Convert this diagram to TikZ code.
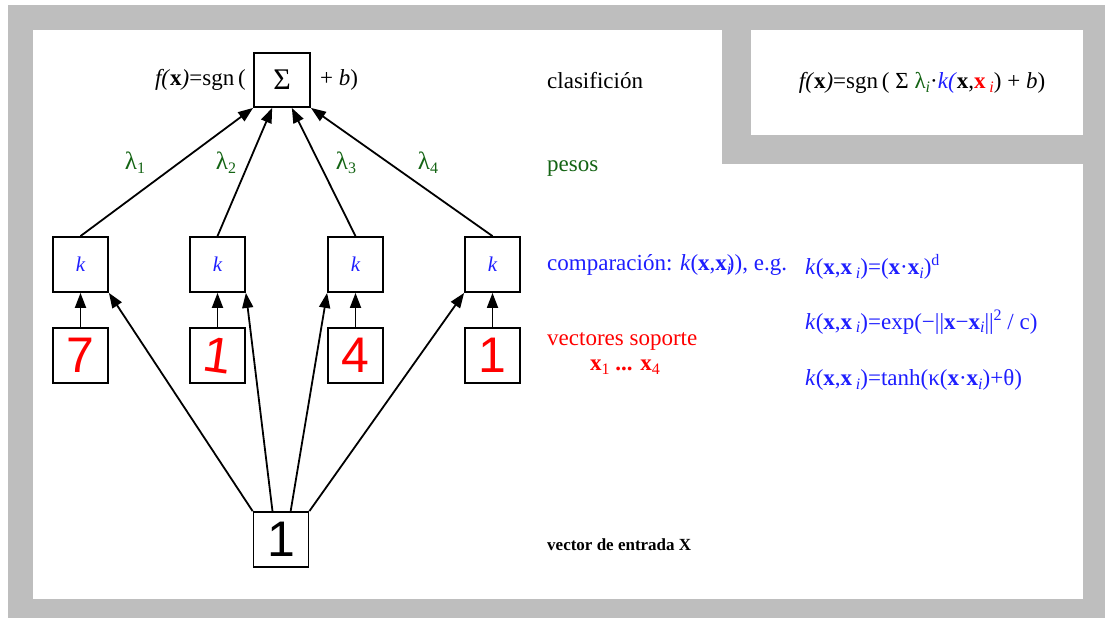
\documentclass[tikz,border=0pt]{standalone}
\usepackage{fontspec}
\setmainfont{Liberation Serif}
\newfontfamily\digitfont{Liberation Sans}
\usetikzlibrary{arrows.meta,calc}
\definecolor{bggray}{RGB}{190,190,190}
\definecolor{wgreen}{RGB}{20,100,20}
\definecolor{kblue}{RGB}{30,30,255}
\definecolor{dred}{RGB}{255,0,0}
\newcommand{\mysub}[1]{\raisebox{-0.35ex}{\fontsize{16}{16}\selectfont #1}}
\newcommand{\mysup}[1]{\raisebox{0.8ex}{\fontsize{16}{16}\selectfont #1}}
\newcommand{\bx}{\textbf{x}}
\newcommand{\ii}{\mysub{\textit{i}}}
\begin{document}
\begin{tikzpicture}[x=1pt,y=-1pt,
  box/.style={draw,line width=1.8pt,minimum width=55pt,minimum height=55pt,inner sep=0pt},
  arr/.style={line width=1.8pt,-{Triangle[length=15pt,width=11pt]}},
  lbl/.style={anchor=west,inner sep=0pt,font=\fontsize{23}{26}\selectfont},
  lam/.style={inner sep=0pt,text=wgreen,font=\fontsize{25}{26}\selectfont},
  dig/.style={font=\digitfont\fontsize{50}{50}\selectfont}
]
\useasboundingbox (0,0) rectangle (1105,618);
\fill[white] (0,0) rectangle (1105,618);
\fill[bggray] (8,5) rectangle (1105,618);
\fill[white] (33,30) rectangle (722,599);
\fill[white] (33,164) rectangle (1083,599);
\fill[white] (751,30) rectangle (1083,135);

% nodes
\node[box,minimum width=56pt,minimum height=54pt] (sum) at (282,80) {\fontsize{30}{30}\selectfont Σ};
\node[box] (k1) at (80.5,264.5) {\textcolor{kblue}{\fontsize{21}{21}\selectfont\itshape k}};
\node[box] (k2) at (217.5,264.5) {\textcolor{kblue}{\fontsize{21}{21}\selectfont\itshape k}};
\node[box] (k3) at (355.5,264.5) {\textcolor{kblue}{\fontsize{21}{21}\selectfont\itshape k}};
\node[box] (k4) at (492.5,264.5) {\textcolor{kblue}{\fontsize{21}{21}\selectfont\itshape k}};
\node[box,dig,text=dred] (d1) at (80.5,355.5) {7};
\node[box,dig,text=dred] (d2) at (217.5,355.5) {\rotatebox{-8}{1}};
\node[box,dig,text=dred] (d3) at (355.5,355.5) {4};
\node[box,dig,text=dred] (d4) at (492.5,355.5) {1};
\node[box,dig] (in) at (281,539.5) {1};

% arrows to sum
\coordinate (s1) at ($(sum.south west)!0.33!(sum.south east)$);
\coordinate (s2) at ($(sum.south west)!0.67!(sum.south east)$);
\draw[arr] (k1.north) -- (sum.south west);
\draw[arr] (k2.north) -- (s1);
\draw[arr] (k3.north) -- (s2);
\draw[arr] (k4.north) -- (sum.south east);

% digit arrows
\draw[arr] (d1.north) -- (k1.south);
\draw[arr] (d2.north) -- (k2.south);
\draw[arr] (d3.north) -- (k3.south);
\draw[arr] (d4.north) -- (k4.south);

% input arrows
\coordinate (i1) at ($(in.north west)!0.35!(in.north east)$);
\coordinate (i2) at ($(in.north west)!0.67!(in.north east)$);
\draw[arr] (in.north west) -- (k1.south east);
\draw[arr] (i1) -- (k2.south east);
\draw[arr] (i2) -- (k3.south west);
\draw[arr] (in.north east) -- (k4.south west);

% lambdas
\node[lam] (l1) at (135,163) {λ\mysub{1}};
\node[lam] (l2) at (226,163) {λ\mysub{2}};
\node[lam] (l3) at (346,163) {λ\mysub{3}};
\node[lam] (l4) at (428,163) {λ\mysub{4}};

% formula around sum
\node[lbl,anchor=east] (fl) at (246,80) {\textit{f(}\bx\textit{)}=sgn\,(};
\node[lbl] (fr) at (320,80) {+ \textit{b})};

% top right formula
\node[lbl,anchor=center] (ftop) at (922,83) {\textit{f(}\bx\textit{)}=sgn\,( Σ \textcolor{wgreen}{λ\mysub{\textit{i}}}·\textcolor{kblue}{\textit{k(}}\bx,\textcolor{dred}{\bx\,\ii}) + \textit{b})};

% right labels
\node[lbl] (cl) at (547,81) {clasifición};
\node[lbl,text=wgreen] (pe) at (547,169) {pesos};
\node[lbl,text=kblue] (co) at (547,265) {comparación: \textit{k}(\bx,\bx\rlap{\ii})), e.g.};
\node[lbl,text=dred] (vs) at (547,341) {vectores soporte};
\node[lbl,text=dred,anchor=center] (xs) at (625,367) {\bx\mysub{1} \textbf{...} \bx\mysub{4}};
\node[lbl,font=\fontsize{17}{20}\selectfont\bfseries] (ve) at (547,545) {vector de entrada X};

% kernel formulas
\node[lbl,text=kblue] (f1) at (805,267) {\textit{k}(\bx,\bx\,\ii)=(\bx·\bx\ii)\mysup{d}};
\node[lbl,text=kblue] (f2) at (805,322) {\textit{k}(\bx,\bx\,\ii)=exp(−||\bx−\bx\ii||\mysup{2} / c)};
\node[lbl,text=kblue] (f3) at (805,380) {\textit{k}(\bx,\bx\,\ii)=tanh(κ(\bx·\bx\ii)+θ)};
\end{tikzpicture}
\end{document}
